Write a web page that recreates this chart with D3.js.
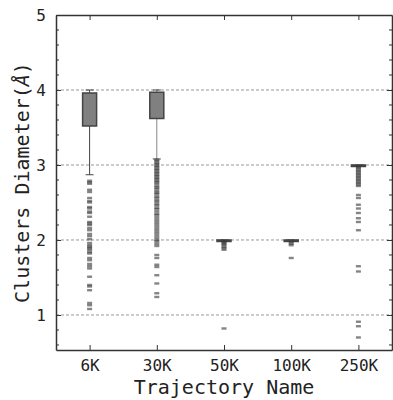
<!DOCTYPE html>
<html>
<head>
<meta charset="utf-8">
<script src="https://cdn.jsdelivr.net/npm/d3@7"></script>
<style>
  body { margin: 0; background: #fff; }
  text { font-family: "DejaVu Sans Mono", monospace; fill: #222; }
</style>
</head>
<body>
<div id="chart"></div>
<script>
// trajectory categories
const categories = ["6K", "30K", "50K", "100K", "250K"];

// box statistics, one per category
const q1Values = [3.52, 3.62, 1.985, 1.985, 2.985];
const q3Values = [3.96, 3.97, 2.0, 2.0, 3.0];
const whiskerLow = [2.87, 3.08, 1.99, 1.99, 2.99];
const whiskerHigh = [4.0, 4.0, 2.0, 2.0, 3.0];

// outliers
const outliers6K = [2.79, 2.77, 2.75, 2.67, 2.64, 2.56, 2.52, 2.5, 2.44, 2.42, 2.38, 2.36,
  2.31, 2.24, 2.22, 2.2, 2.16, 2.13, 2.08, 2.05, 2.01, 1.96, 1.93, 1.91, 1.89, 1.87, 1.84,
  1.82, 1.76, 1.73, 1.68, 1.65, 1.62, 1.51, 1.4, 1.38, 1.33, 1.16, 1.13, 1.08];
const outliers30K = [3.07, 3.05, 3.03, 3.01, 2.99, 2.97, 2.95, 2.93, 2.91, 2.89, 2.87, 2.85,
  2.83, 2.81, 2.79, 2.77, 2.75, 2.72, 2.7, 2.68, 2.65, 2.63, 2.61, 2.58, 2.56, 2.53, 2.51,
  2.48, 2.46, 2.43, 2.41, 2.38, 2.35, 2.33, 2.3, 2.27, 2.24, 2.21, 2.18, 2.15, 2.12, 2.09,
  2.06, 2.03, 2.0, 1.98, 1.95, 1.92, 1.8, 1.76, 1.67, 1.64, 1.53, 1.42, 1.29, 1.24];
const outliers50K = [1.98, 1.96, 1.95, 1.93, 1.91, 1.89, 1.87, 0.82];
const outliers100K = [1.97, 1.95, 1.93, 1.76];
const outliers250K = [2.98, 2.96, 2.94, 2.92, 2.9, 2.88, 2.86, 2.84, 2.82, 2.8, 2.78, 2.76,
  2.74, 2.72, 2.6, 2.56, 2.47, 2.42, 2.36, 2.29, 2.24, 2.13, 1.65, 1.58, 0.91, 0.85, 0.7];
const outlierSets = [outliers6K, outliers30K, outliers50K, outliers100K, outliers250K];

const yTicks = [1, 2, 3, 4, 5];
const yMinorTicks = [0.6, 0.8, 1.2, 1.4, 1.6, 1.8, 2.2, 2.4, 2.6, 2.8, 3.2, 3.4, 3.6, 3.8,
  4.2, 4.4, 4.6, 4.8];

// chart dimensions
const chartWidth = 393;
const chartHeight = 400;
const margin = { top: 15, right: 1, bottom: 50, left: 56 };
const width = chartWidth - margin.left - margin.right;
const height = chartHeight - margin.top - margin.bottom;

const svg = d3
  .select("#chart")
  .append("svg")
  .attr("width", chartWidth)
  .attr("height", chartHeight)
  .append("g")
  .attr("transform", `translate(${margin.left}, ${margin.top})`);

// scales
const x = d3.scaleLinear().domain([0.5, 5.5]).range([0, width]);
const y = d3.scaleLinear().domain([0.533, 5]).range([height, 0]);
const xPos = (i) => x(i + 1);

// gridlines
svg
  .append("g")
  .selectAll("line")
  .data(yTicks.filter((d) => d < 5))
  .enter()
  .append("line")
  .attr("x1", 0)
  .attr("x2", width)
  .attr("y1", (d) => y(d))
  .attr("y2", (d) => y(d))
  .attr("stroke", "#999")
  .attr("stroke-width", 1)
  .attr("stroke-dasharray", "3,2");

// boxes
const boxWidth = 14;
const capWidth = 8;
const boxData = categories.map((c, i) => ({
  i,
  q1: q1Values[i],
  q3: q3Values[i],
  lo: whiskerLow[i],
  hi: whiskerHigh[i],
}));

const boxes = svg.append("g");

boxes
  .selectAll(".whisker")
  .data(boxData)
  .enter()
  .append("line")
  .attr("x1", (d) => xPos(d.i))
  .attr("x2", (d) => xPos(d.i))
  .attr("y1", (d) => y(d.lo))
  .attr("y2", (d) => y(d.hi))
  .attr("stroke", (d) => (d.i === 1 ? "#888" : "#444"))
  .attr("stroke-width", 1);

// outliers
categories.forEach((c, i) => {
  svg
    .append("g")
    .selectAll("rect")
    .data(outlierSets[i])
    .enter()
    .append("rect")
    .attr("x", xPos(i) - 2.5)
    .attr("y", (d) => y(d) - 1.2)
    .attr("width", 5)
    .attr("height", 2.4)
    .attr("fill", "#333")
    .attr("opacity", 0.6);
});

boxes
  .selectAll(".cap")
  .data(boxData.flatMap((d) => [{ i: d.i, v: d.lo }, { i: d.i, v: d.hi }]))
  .enter()
  .append("line")
  .attr("x1", (d) => xPos(d.i) - capWidth / 2)
  .attr("x2", (d) => xPos(d.i) + capWidth / 2)
  .attr("y1", (d) => y(d.v))
  .attr("y2", (d) => y(d.v))
  .attr("stroke", "#444")
  .attr("stroke-width", 1);

boxes
  .selectAll(".box")
  .data(boxData)
  .enter()
  .append("rect")
  .attr("x", (d) => xPos(d.i) - boxWidth / 2)
  .attr("y", (d) => y(d.q3))
  .attr("width", boxWidth)
  .attr("height", (d) => Math.max(1.5, y(d.q1) - y(d.q3)))
  .attr("fill", "#808080")
  .attr("stroke", "#444")
  .attr("stroke-width", 1.5);

// frame with inward ticks
const axisStyle = (g) => {
  g.select(".domain").attr("stroke", "#333").attr("stroke-width", 1.5);
  g.selectAll(".tick line").attr("stroke", "#333");
};

svg
  .append("g")
  .attr("transform", `translate(0, ${height})`)
  .call(
    d3.axisBottom(x).tickValues([1, 2, 3, 4, 5]).tickSizeInner(-5).tickSizeOuter(0)
      .tickPadding(10).tickFormat((d) => categories[d - 1])
  )
  .call(axisStyle)
  .call((g) => g.selectAll("text").attr("font-size", 16).attr("fill", "#222"));

svg
  .append("g")
  .call(
    d3.axisTop(x).tickValues([1, 2, 3, 4, 5]).tickSizeInner(-5).tickSizeOuter(0)
      .tickFormat("")
  )
  .call(axisStyle);

svg
  .append("g")
  .call(
    d3.axisLeft(y).tickValues(yTicks).tickSizeInner(-5).tickSizeOuter(0)
      .tickPadding(10).tickFormat(d3.format("d"))
  )
  .call(axisStyle)
  .call((g) => g.selectAll("text").attr("font-size", 16).attr("fill", "#222"));

svg
  .append("g")
  .attr("transform", `translate(${width}, 0)`)
  .call(d3.axisRight(y).tickValues(yTicks).tickSizeInner(-5).tickSizeOuter(0).tickFormat(""))
  .call(axisStyle);

// minor ticks on left and right
[0, width].forEach((xx) => {
  svg
    .append("g")
    .selectAll("line")
    .data(yMinorTicks)
    .enter()
    .append("line")
    .attr("x1", xx)
    .attr("x2", xx === 0 ? 3 : width - 3)
    .attr("y1", (d) => y(d))
    .attr("y2", (d) => y(d))
    .attr("stroke", "#333");
});

// axis titles
svg
  .append("text")
  .attr("x", width / 2)
  .attr("y", height + 44)
  .attr("text-anchor", "middle")
  .attr("font-size", 20)
  .text("Trajectory Name");

const yLabel = svg
  .append("text")
  .attr("transform", "rotate(-90)")
  .attr("x", -height / 2)
  .attr("y", -margin.left + 29)
  .attr("text-anchor", "middle")
  .attr("font-size", 20);
yLabel.append("tspan").text("Clusters Diameter(");
yLabel.append("tspan").attr("font-style", "italic").text("Å");
yLabel.append("tspan").text(")");
</script>
</body>
</html>
